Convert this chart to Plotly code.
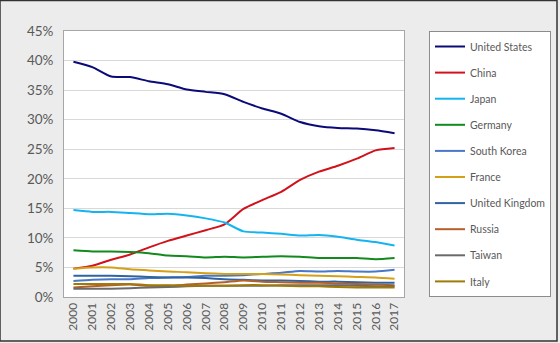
import plotly.graph_objects as go

years = [str(y) for y in range(2000, 2018)]

united_states = [39.8, 38.9, 37.3, 37.2, 36.5, 36.0, 35.1, 34.7, 34.3, 33.0, 31.9, 31.0, 29.6, 28.9, 28.6, 28.5, 28.2, 27.7]
china = [4.8, 5.3, 6.3, 7.2, 8.4, 9.5, 10.4, 11.3, 12.3, 14.9, 16.4, 17.8, 19.8, 21.2, 22.2, 23.4, 24.8, 25.2]
japan = [14.7, 14.4, 14.4, 14.2, 14.0, 14.1, 13.8, 13.3, 12.6, 11.1, 10.9, 10.7, 10.4, 10.5, 10.2, 9.7, 9.3, 8.7]
germany = [7.9, 7.7, 7.7, 7.6, 7.4, 7.0, 6.9, 6.7, 6.8, 6.7, 6.8, 6.9, 6.8, 6.6, 6.6, 6.6, 6.4, 6.6]
south_korea = [2.7, 2.9, 3.0, 3.0, 3.2, 3.3, 3.4, 3.6, 3.6, 3.7, 3.9, 4.1, 4.4, 4.3, 4.4, 4.3, 4.3, 4.6]
france = [4.8, 5.0, 5.0, 4.7, 4.5, 4.3, 4.2, 4.0, 3.9, 3.9, 3.9, 3.8, 3.7, 3.6, 3.5, 3.4, 3.3, 3.1]
united_kingdom = [3.6, 3.6, 3.6, 3.5, 3.4, 3.3, 3.3, 3.2, 3.0, 2.9, 2.8, 2.8, 2.7, 2.6, 2.6, 2.5, 2.4, 2.4]
russia = [1.6, 1.8, 2.0, 2.1, 1.9, 1.9, 2.1, 2.3, 2.5, 2.8, 2.6, 2.5, 2.4, 2.4, 2.3, 2.2, 2.1, 2.0]
taiwan = [1.4, 1.4, 1.4, 1.5, 1.6, 1.7, 1.8, 1.9, 1.9, 1.9, 1.9, 2.0, 2.0, 2.0, 2.0, 1.9, 1.8, 1.8]
italy = [2.2, 2.2, 2.2, 2.2, 2.0, 2.0, 1.9, 1.9, 1.9, 2.0, 2.0, 1.9, 1.8, 1.8, 1.7, 1.6, 1.6, 1.6]

series_names = ["United States", "China", "Japan", "Germany", "South Korea",
                "France", "United Kingdom", "Russia", "Taiwan", "Italy"]
series_values = [united_states, china, japan, germany, south_korea,
                 france, united_kingdom, russia, taiwan, italy]
colors = ["#0a0a78", "#d0121b", "#14b4f0", "#128a1e", "#4a78c8",
          "#d4a017", "#2f64a0", "#b5602a", "#6a6a6a", "#a07a08"]

fig = go.Figure()
for name, vals, col in zip(series_names, series_values, colors):
    fig.add_trace(go.Scatter(
        x=years, y=[v / 100 for v in vals], name=name, mode="lines",
        line=dict(color=col, width=2, shape="spline", smoothing=0.6),
        legendgroup=name,
    ))

fig.update_layout(
    width=560, height=343,
    margin=dict(l=64, r=156, t=31, b=46, autoexpand=False),
    paper_bgcolor="#ececec",
    plot_bgcolor="#ffffff",
    font=dict(family="Lato, Open Sans, sans-serif", color="#595959"),
    showlegend=True,
    legend=dict(
        x=(429 - 64) / 340, y=1.0, xanchor="left", yanchor="top",
        bgcolor="#ffffff", bordercolor="#8c8c8c", borderwidth=1,
        font=dict(size=10.5, color="#595959"),
        tracegroupgap=7.1, itemwidth=30, maxheight=320,
    ),
    xaxis=dict(
        type="category", tickangle=-90, tickfont=dict(size=12),
        showline=True, linecolor="#a6a6a6", linewidth=1, mirror=True,
        showgrid=False, ticks="", range=[-0.5, 17.5],
    ),
    yaxis=dict(
        range=[0, 0.45], dtick=0.05, tickformat=".0%", tickfont=dict(size=13.5),
        showgrid=True, gridcolor="#d9d9d9", gridwidth=1,
        showline=True, linecolor="#a6a6a6", linewidth=1, mirror=True,
        ticks="", zeroline=False, ticksuffix="  ",
    ),
    shapes=[dict(type="rect", xref="paper", yref="paper",
                 x0=-64 / 340, x1=(557 - 64) / 340,
                 y0=(297 - 341) / 266, y1=(297 - 0.5) / 266,
                 line=dict(color="#333333", width=1.5), layer="below")],
)

fig.write_html("out.html")
